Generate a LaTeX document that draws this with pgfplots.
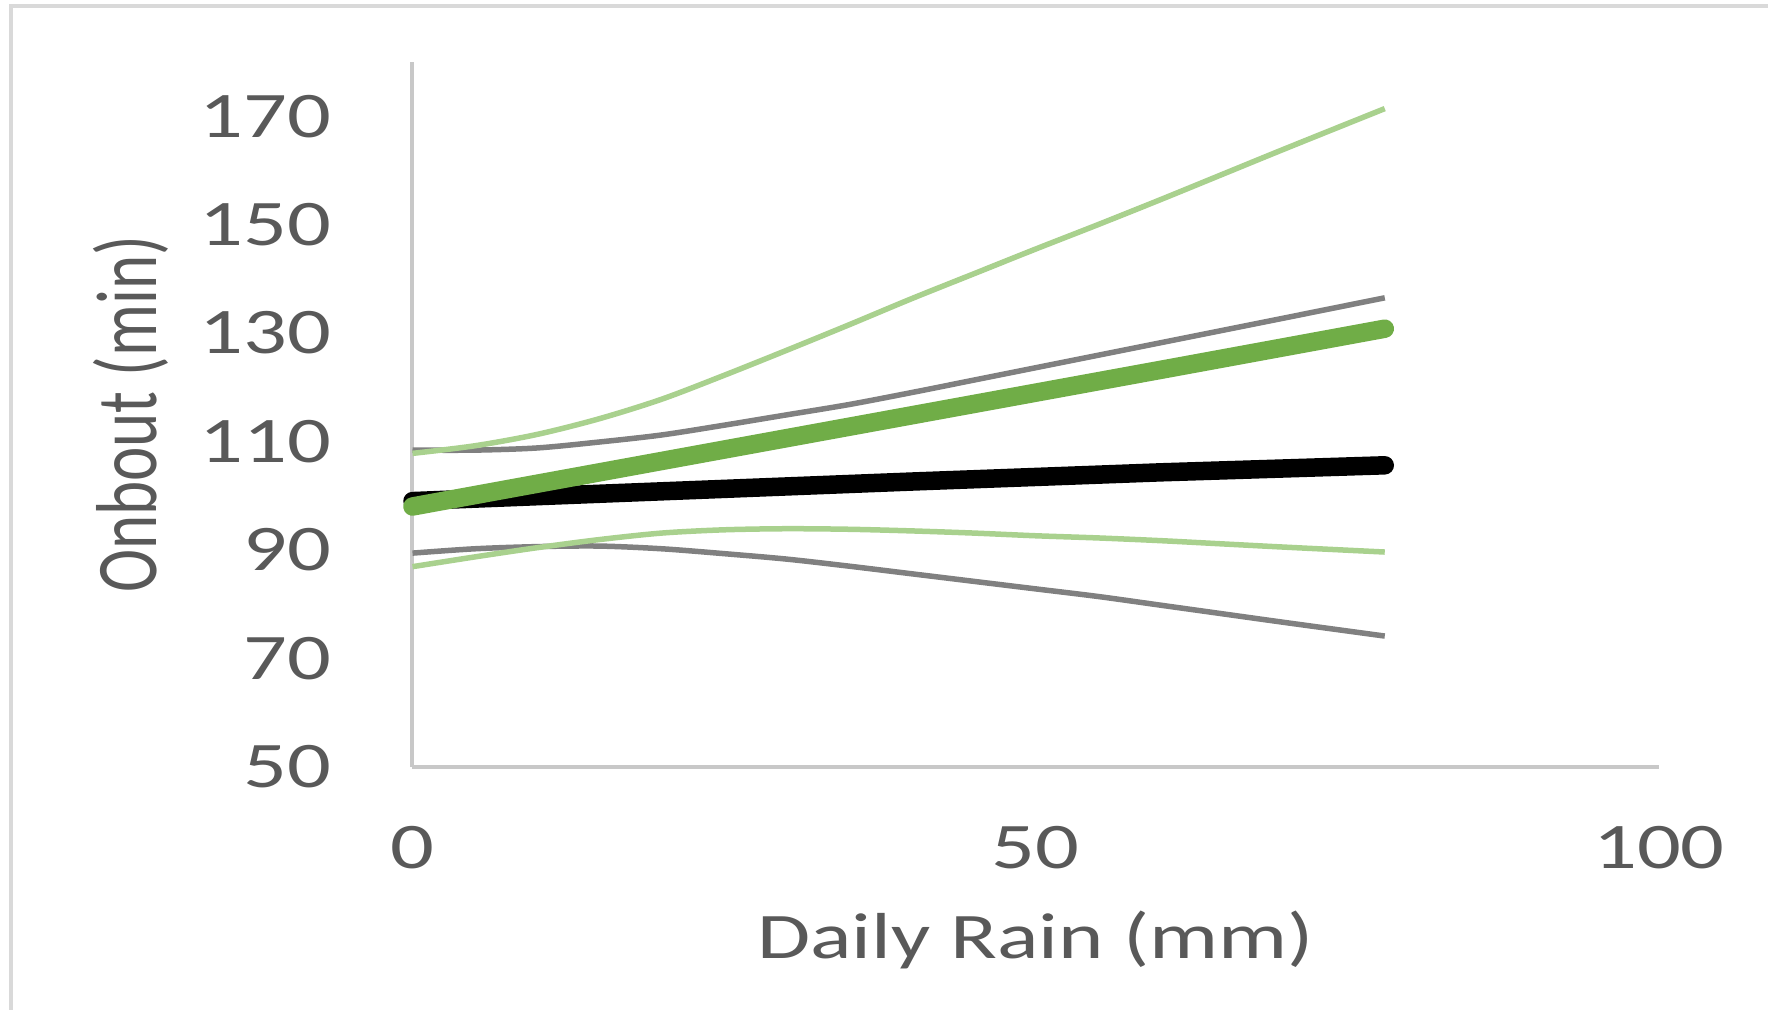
\documentclass[border=0pt]{standalone}
\usepackage{fontspec}
\setmainfont{Carlito}[FakeStretch=1.33]
\newfontfamily\ylfont{Carlito}
\usepackage{graphicx}
\usepackage{pgfplots}
\pgfplotsset{compat=1.18}
\definecolor{txt}{HTML}{595959}
\definecolor{axgray}{HTML}{C8C8C8}
\definecolor{bord}{HTML}{D9D9D9}
\definecolor{grayline}{HTML}{808080}
\definecolor{lgreen}{HTML}{A9D18E}
\definecolor{dgreen}{HTML}{70AD47}
\begin{document}
\begin{tikzpicture}
\useasboundingbox (0,0) rectangle (17.68cm,10.10cm);
\draw[color=bord, line width=0.4mm] (0.11cm,-0.5cm) -- (0.11cm,10.04cm) -- (18cm,10.04cm);
\begin{axis}[
  at={(4.125cm,2.433cm)}, anchor=south west,
  scale only axis, width=12.465cm, height=7.047cm,
  xmin=0, xmax=100, ymin=50, ymax=180,
  axis x line=bottom, axis y line=left,
  axis line style={-, color=axgray, line width=0.4mm},
  xtick={0,50,100}, ytick={50,70,...,170},
  major tick length=0pt,
  /pgf/number format/assume math mode=true,
  tick label style={font=\fontsize{18.5}{22}\selectfont, text=txt},
  xticklabel style={anchor=base, inner sep=0pt, yshift=-1.016cm},
  yticklabel style={anchor=east, inner sep=0pt, xshift=-0.805cm},
  xlabel={Daily Rain (mm)},
  xlabel style={at={(axis description cs:0.5,-0.272)}, anchor=base, font=\fontsize{18.5}{22}\selectfont, text=txt},
  ylabel={\scalebox{1}[1.33]{\ylfont Onbout (min)}},
  ylabel style={at={(axis description cs:-0.205,0.5)}, anchor=base, font=\fontsize{18.5}{22}\selectfont, text=txt},
  clip=false,
]
% gray upper
\addplot[color=grayline, line width=0.55mm, smooth, tension=0.5, line join=round] coordinates {
(0,108.4) (5,108.4) (10,108.8) (15,109.9) (20,111.2) (25,113.0) (30,114.9) (35,116.8) (40,119.0) (45,121.3) (50,123.6) (55,125.9) (60,128.2) (65,130.5) (70,132.8) (78,136.5)};
% gray lower
\addplot[color=grayline, line width=0.55mm, smooth, tension=0.5, line join=round] coordinates {
(0,89.4) (5,90.2) (10,90.6) (15,90.7) (20,90.2) (25,89.3) (30,88.3) (35,87.0) (40,85.6) (45,84.2) (50,82.8) (55,81.4) (60,79.8) (65,78.2) (70,76.6) (78,74.1)};
% light green upper
\addplot[color=lgreen, line width=0.55mm, smooth, tension=0.5, line join=round] coordinates {
(0,107.8) (5,109.2) (10,111.3) (15,114.2) (20,117.8) (25,122.2) (30,126.8) (35,131.5) (40,136.3) (45,140.9) (50,145.5) (55,150.0) (60,154.6) (65,159.3) (70,164.0) (78,171.4)};
% light green lower
\addplot[color=lgreen, line width=0.55mm, smooth, tension=0.5, line join=round] coordinates {
(0,86.9) (5,88.7) (10,90.4) (15,91.9) (20,93.1) (25,93.7) (30,93.9) (35,93.8) (40,93.5) (45,93.1) (50,92.6) (55,92.2) (60,91.7) (65,91.1) (70,90.5) (78,89.6)};
% black thick
\addplot[color=black, line width=1.85mm, line cap=round, line join=round] coordinates {
(0,99.0) (20,100.8) (40,102.6) (60,104.3) (78,105.6)};
% green thick
\addplot[color=dgreen, line width=1.85mm, line cap=round, line join=round] coordinates {
(0,98.0) (20,106.4) (40,114.8) (60,123.2) (78,130.8)};
\end{axis}
\end{tikzpicture}
\end{document}
